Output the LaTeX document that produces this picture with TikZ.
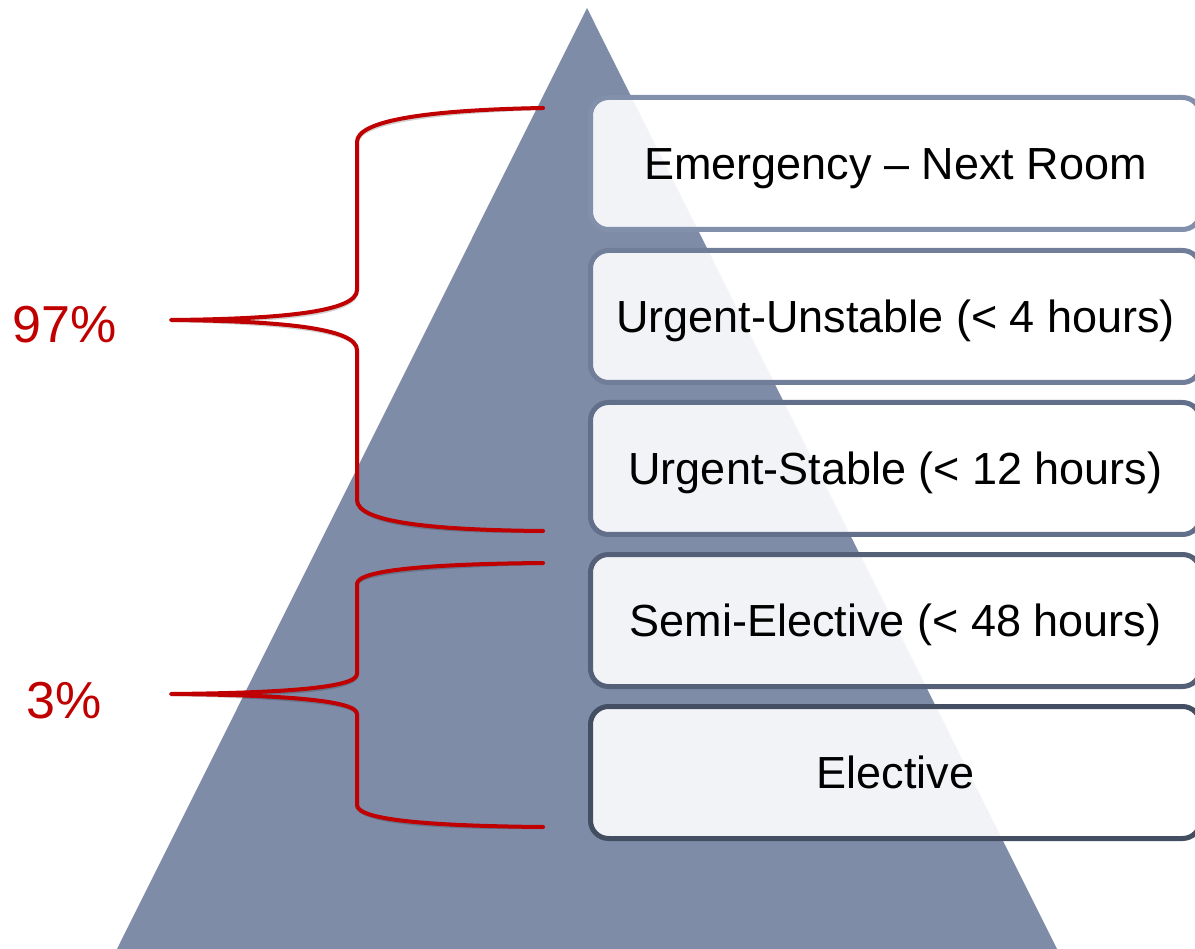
\documentclass[tikz,border=0pt]{standalone}
\usepackage{fontspec}
\setmainfont{Liberation Sans}
\definecolor{trifill}{RGB}{127,140,168}
\definecolor{bordA}{RGB}{130,144,172}
\definecolor{bordB}{RGB}{112,126,154}
\definecolor{bordC}{RGB}{98,111,138}
\definecolor{bordD}{RGB}{84,96,120}
\definecolor{bordE}{RGB}{68,78,98}
\definecolor{bracered}{RGB}{192,0,0}
\begin{document}
\begin{tikzpicture}[x=1pt,y=-1pt,
  tier/.style={draw=#1, line width=5pt, fill=white, fill opacity=0.9, text opacity=1,
    rounded corners=18pt, minimum width=610pt, minimum height=132pt,
    text height=32pt, text depth=0pt, inner sep=0pt,
    font=\fontsize{45}{54}\selectfont, text=black},
  brace/.style={draw=bracered, line width=4pt, line cap=round, line join=round},
  braceshadow/.style={draw=black, opacity=0.18, line width=4pt, line cap=round},
  pct/.style={font=\fontsize{52}{62}\selectfont, text=bracered, inner sep=0pt,
    text height=37.5pt, text depth=0pt}]
\useasboundingbox (0,0) rectangle (1195,949);
\clip (0,0) rectangle (1195,949);
% pyramid
\fill[trifill] (587,8) -- (1057,949) -- (117,949) -- cycle;
% tiers
\node[tier=bordA] (t1) at (895.5,163.5) {Emergency \textendash\ Next Room};
\node[tier=bordB] (t2) at (895.5,316.5) {Urgent-Unstable (< 4 hours)};
\node[tier=bordC] (t3) at (895.5,468.5) {Urgent-Stable (< 12 hours)};
\node[tier=bordD] (t4) at (895.5,620.5) {Semi-Elective (< 48 hours)};
\node[tier=bordE] (t5) at (895.5,772.5) {Elective};
% brace coordinates
\coordinate (a1) at (543,108);
\coordinate (a2) at (357,142);
\coordinate (a3) at (357,290);
\coordinate (atip) at (171,320);
\coordinate (a4) at (357,350);
\coordinate (a5) at (357,500);
\coordinate (a6) at (543,531);
\coordinate (b1) at (543,563);
\coordinate (b2) at (357,584);
\coordinate (b3) at (357,674);
\coordinate (btip) at (171,694);
\coordinate (b4) at (357,714);
\coordinate (b5) at (357,805);
\coordinate (b6) at (543,827);
% brace shadows
\begin{scope}[shift={(1.5,2)}]
\draw[braceshadow] (a1) .. controls (430,110) and (357,120) .. (a2) -- (a3)
  .. controls (357,312) and (280,319) .. (atip)
  .. controls (280,321) and (357,328) .. (a4) -- (a5)
  .. controls (357,522) and (430,530) .. (a6);
\draw[braceshadow] (b1) .. controls (430,564) and (357,570) .. (b2) -- (b3)
  .. controls (357,688) and (280,693) .. (btip)
  .. controls (280,695) and (357,700) .. (b4) -- (b5)
  .. controls (357,820) and (430,826) .. (b6);
\end{scope}
% braces
\draw[brace] (a1) .. controls (430,110) and (357,120) .. (a2) -- (a3)
  .. controls (357,312) and (280,319) .. (atip)
  .. controls (280,321) and (357,328) .. (a4) -- (a5)
  .. controls (357,522) and (430,530) .. (a6);
\draw[brace] (b1) .. controls (430,564) and (357,570) .. (b2) -- (b3)
  .. controls (357,688) and (280,693) .. (btip)
  .. controls (280,695) and (357,700) .. (b4) -- (b5)
  .. controls (357,820) and (430,826) .. (b6);
% percentages
\node[pct] (p97) at (65,324) {97\%};
\node[pct] (p3) at (64,700) {3\%};
\end{tikzpicture}
\end{document}
